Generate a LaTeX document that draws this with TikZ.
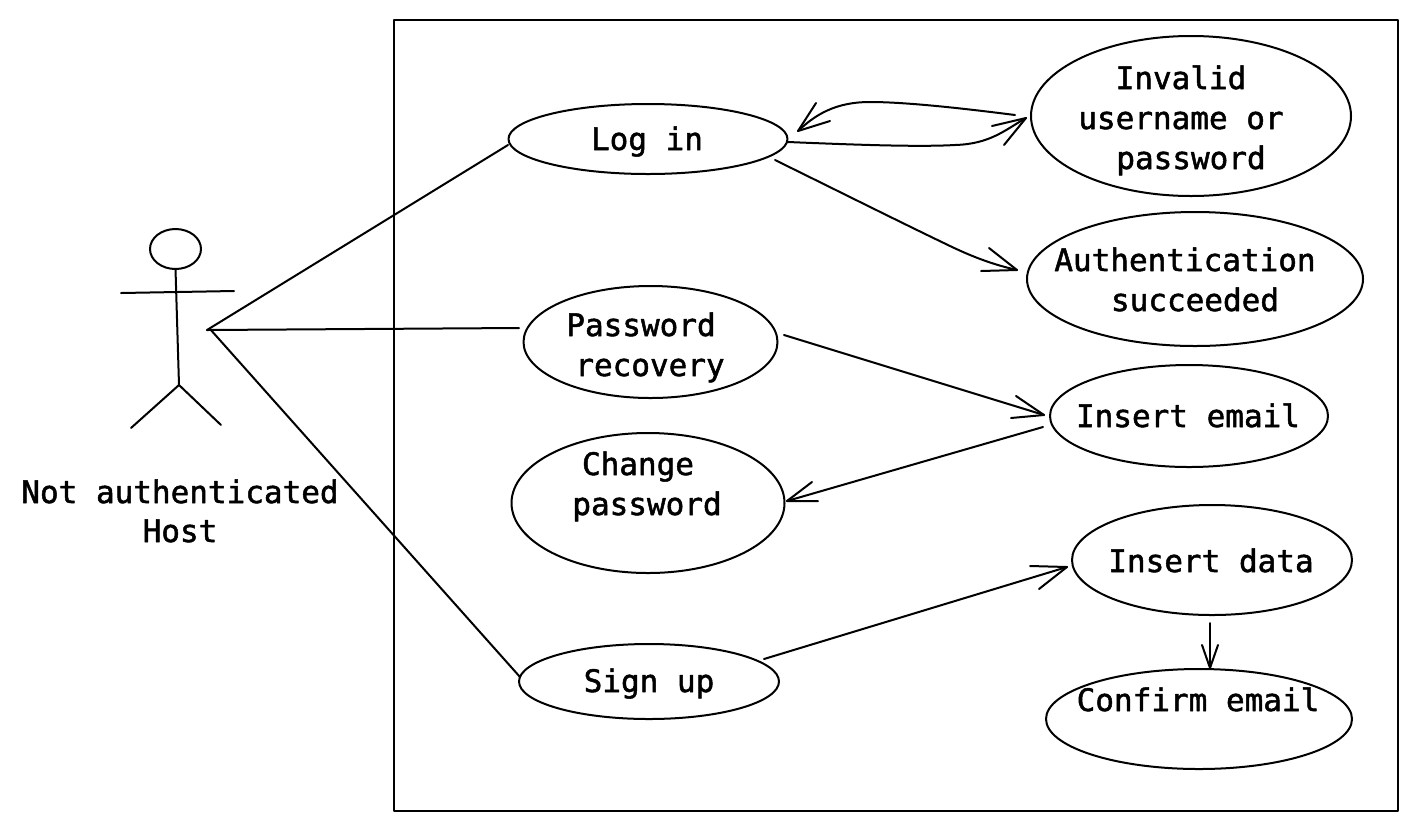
\documentclass[tikz,border=0pt]{standalone}
\usepackage{fontspec}
\setmonofont[BoldFont={DejaVu Sans Mono},BoldFeatures={FakeBold=1.6}]{DejaVu Sans Mono}
\usetikzlibrary{shapes.geometric}
\tikzset{
  x=1pt,y=-1pt,
  every path/.style={line width=2pt,line cap=round,line join=round},
  usecase/.style={draw,ellipse,inner sep=0pt,outer sep=0pt},
  lbl/.style={font=\ttfamily\bfseries\fontsize{31}{40}\selectfont,align=center,inner sep=0pt,outer sep=0pt,text height=22pt,text depth=0pt},
}
\begin{document}
\begin{tikzpicture}
\useasboundingbox (0,0) rectangle (1418,831);
\node[draw,minimum width=1004pt,minimum height=791pt,inner sep=0pt,outer sep=0pt] (frame) at (896,415.5) {};

\node[usecase,minimum width=279pt,minimum height=70pt] (login) at (648,139) {};
\node[usecase,minimum width=320pt,minimum height=160pt] (invalid) at (1191,116) {};
\node[usecase,minimum width=336pt,minimum height=134pt] (auth) at (1195,279) {};
\node[usecase,minimum width=254pt,minimum height=112pt] (recovery) at (650.5,342) {};
\node[usecase,minimum width=278pt,minimum height=102pt] (email) at (1189,416) {};
\node[usecase,minimum width=273pt,minimum height=140pt] (change) at (648,503) {};
\node[usecase,minimum width=280pt,minimum height=110pt] (data) at (1212,560) {};
\node[usecase,minimum width=306pt,minimum height=100pt] (confirm) at (1199,719) {};
\node[usecase,minimum width=260pt,minimum height=75pt] (signup) at (649,681.5) {};

\node[lbl] (tlogin) at (647,139) {Log in};
\node[lbl] (tinv1) at (1181,78) {Invalid};
\node[lbl] (tinv2) at (1181,118) {username or};
\node[lbl] (tinv3) at (1191,158) {password};
\node[lbl] (tauth1) at (1185,260) {Authentication};
\node[lbl] (tauth2) at (1195,300) {succeeded};
\node[lbl] (trec1) at (641,325) {Password};
\node[lbl] (trec2) at (650,365) {recovery};
\node[lbl] (temail) at (1188,416) {Insert email};
\node[lbl] (tch1) at (638,464) {Change};
\node[lbl] (tch2) at (647,504) {password};
\node[lbl] (tdata) at (1211,561) {Insert data};
\node[lbl] (tconf) at (1198,700) {Confirm email};
\node[lbl] (tsign) at (649,681) {Sign up};
\node[lbl] (tactor1) at (180,492) {Not authenticated};
\node[lbl] (tactor2) at (180,531) {Host};

% actor
\node[usecase,minimum width=51pt,minimum height=40pt] (head) at (175.5,249) {};
\coordinate (neck) at (head.south);
\coordinate (hip) at (179,385);
\coordinate (armL) at (121,293);
\coordinate (armR) at (234,291);
\coordinate (footL) at (131,428);
\coordinate (footR) at (221,425);
\coordinate (hand) at (207,330);
\coordinate (handB) at (210,329);
\draw (neck) -- (hip);
\draw (armL) -- (armR);
\draw (footL) -- (hip) -- (footR);

% associations
\coordinate (aLog) at (508,145);
\coordinate (aRec) at (519,328);
\coordinate (aSign) at (520,677);
\draw (hand) -- (aLog);
\draw (hand) -- (aRec);
\draw (handB) -- (aSign);

% arrows
\coordinate (invOut) at (1015,115);
\coordinate (logBack) at (798,131);
\coordinate (logOut) at (788,142);
\coordinate (invIn) at (1026,118);
\coordinate (logOut2) at (775,160);
\coordinate (authIn) at (1017,270);
\coordinate (recOut) at (784,335);
\coordinate (emailIn) at (1044,415);
\coordinate (emailOut) at (1043,427);
\coordinate (chIn) at (787,501);
\coordinate (signOut) at (764,659);
\coordinate (dataIn) at (1067,567);
\coordinate (dataOut) at (1210,623);
\coordinate (confIn) at (1210,668);

\draw (invOut) .. controls (960,108) and (905,102) .. (870,102) .. controls (835,102) and (815,115) .. (logBack);
\draw (816,103) -- (logBack) -- (830,121);
\draw (logOut) .. controls (860,145) and (920,147) .. (955,145) .. controls (990,144) and (1005,130) .. (invIn);
\draw (992,126) -- (invIn) -- (1004,145);
\draw (logOut2) .. controls (840,192) and (900,222) .. (950,246) .. controls (975,258) and (995,265) .. (authIn);
\draw (989,248) -- (authIn) -- (981,271);
\draw (recOut) -- (emailIn);
\draw (1016,396) -- (emailIn) -- (1011,418);
\draw (emailOut) -- (chIn);
\draw (812,482) -- (chIn) -- (818,501);
\draw (signOut) -- (dataIn);
\draw (1030,566) -- (dataIn) -- (1039,589);
\draw (dataOut) -- (confIn);
\draw (1202,645) -- (confIn) -- (1218,645);
\end{tikzpicture}
\end{document}
